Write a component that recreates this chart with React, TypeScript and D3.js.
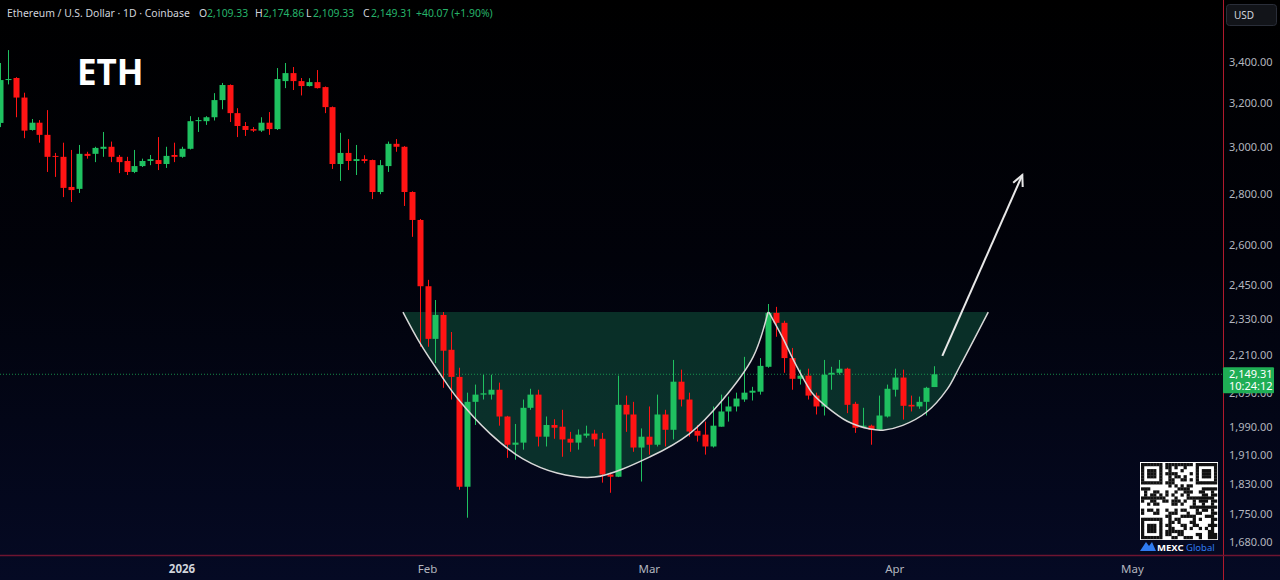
import React from 'react'
import * as d3 from 'd3'

// daily candles, first one is 2025-12-09
const startDate = '2025-12-09'
const opens = [3109, 3311, 3321, 3227, 3077, 3110, 3055, 2962, 2958, 2830, 2822, 2971, 2971, 2993, 3002, 2958, 2940, 2893, 2918, 2940, 2944, 2927, 2966,
    2958, 2993, 3117, 3117, 3135, 3215, 3287, 3154, 3095, 3081, 3074, 3110, 3081, 3306, 3345, 3306, 3282, 3301, 3277, 3182, 2927, 2975, 2940, 2948, 2944, 2809, 2918, 3015, 3002,
    2809, 2696, 2446, 2264, 2345, 2228, 2141, 1822, 2064, 2086, 2086, 2101, 2020, 1938, 1944, 2046, 2086, 1961, 1995, 1990, 1955, 1944, 1964, 1970, 1955, 1855, 1849, 2055, 2026, 1930,
    1961, 1938, 2026, 1981, 2126, 2071, 1978, 1967, 1933, 1990, 2035, 2050, 2071, 2092, 2095, 2173, 2352, 2318, 2201, 2135, 2145, 2083, 2050, 2148, 2154, 2167, 2058, 1990, 1993, 1981,
    2020, 2101, 2139, 2055, 2050, 2064, 2109.33]
const highs = [3395, 3460, 3325, 3250, 3127, 3122, 3168, 2975, 3020, 2988, 3010, 2980, 3002, 3068, 3025, 2966, 2958, 2988, 2950, 2966, 3045, 3002, 3020,
    3002, 3140, 3135, 3140, 3248, 3297, 3290, 3177, 3113, 3090, 3135, 3159, 3370, 3395, 3375, 3321, 3320, 3360, 3280, 3185, 3064, 3036, 3010, 2965, 2946, 2944, 3025, 3036, 3005,
    2812, 2700, 2469, 2397, 2355, 2287, 2170, 2092, 2117, 2148, 2148, 2123, 2022, 1998, 2071, 2104, 2101, 2020, 2012, 2040, 1975, 1982, 1993, 1981, 1972, 1860, 2145, 2083, 2064,
    1985, 2050, 2086, 2040, 2195, 2164, 2092, 1995, 2005, 2050, 2086, 2080, 2092, 2205, 2110, 2201, 2383, 2373, 2325, 2234, 2164, 2167, 2092, 2195, 2173, 2195, 2170, 2064, 2046, 1996,
    2083, 2117, 2167, 2164, 2083, 2080, 2110, 2174.86]
const lows = [3090, 3290, 3135, 3040, 3074, 3020, 2893, 2872, 2788, 2768, 2805, 2950, 2935, 2958, 2935, 2888, 2880, 2888, 2914, 2922, 2901, 2910, 2935,
    2954, 2990, 3068, 3100, 3120, 3172, 3113, 3045, 3050, 3068, 3068, 3055, 3077, 3272, 3263, 3237, 3280, 3270, 3154, 2906, 2855, 2901, 2880, 2930, 2780, 2800, 2893, 2980, 2752,
    2630, 2238, 2238, 2185, 2107, 2071, 1814, 1741, 1995, 2071, 2071, 1993, 1901, 1896, 1924, 2040, 1933, 1933, 1955, 1904, 1918, 1924, 1958, 1933, 1833, 1806, 1848, 1975, 1918,
    1836, 1910, 1933, 1933, 1953, 2050, 1961, 1947, 1910, 1930, 1990, 2005, 2035, 2064, 2068, 2086, 2170, 2271, 2154, 2101, 2117, 2071, 2026, 2023, 2101, 2148, 2030, 1972, 1988, 1938,
    1978, 2017, 2080, 2011, 2035, 2043, 2023, 2109.33]
const closes = [3311, 3316, 3227, 3074, 3110, 3055, 2958, 2958, 2826, 2817, 2971, 2962, 2997, 3002, 2958, 2935, 2893, 2918, 2940, 2948, 2927, 2962, 2958,
    2993, 3117, 3122, 3135, 3215, 3287, 3154, 3095, 3077, 3074, 3110, 3081, 3316, 3345, 3306, 3282, 3301, 3272, 3182, 2927, 2975, 2940, 2948, 2940, 2809, 2922, 3015, 3002, 2809,
    2696, 2446, 2264, 2345, 2225, 2141, 1822, 2064, 2086, 2090, 2101, 2020, 1938, 1944, 2046, 2086, 1961, 1995, 1987, 1953, 1944, 1967, 1970, 1953, 1855, 1849, 2055, 2026, 1930,
    1961, 1938, 2026, 1981, 2126, 2071, 1976, 1964, 1933, 1993, 2035, 2050, 2074, 2092, 2098, 2176, 2352, 2318, 2201, 2135, 2145, 2083, 2050, 2148, 2154, 2167, 2055, 1987, 1993, 1981,
    2023, 2104, 2139, 2052, 2050, 2064, 2107, 2149.31]

const lastPrice = 2149.31
const priceTicks = [3400, 3200, 3000, 2800, 2600, 2450, 2330, 2210, 2090, 1990, 1910, 1830, 1750, 1680]
const monthTicks = ['2026-01-01', '2026-02-01', '2026-03-01', '2026-04-01', '2026-05-01']
const monthLabels = ['2026', 'Feb', 'Mar', 'Apr', 'May']

// cup & handle drawing, [days after 2026-01-01, price]
const cupCurve = [[27.9, 2355], [30.05, 2250], [32.6, 2150], [34.7, 2077], [38.9, 1970], [43.05, 1898], [47.35, 1859], [52.1, 1848],
    [59.1, 1904], [64.1, 1970], [68.3, 2071], [72.1, 2204], [74.0, 2355]]
const handleCurve = [[74.1, 2355], [75.9, 2265], [77.1, 2200], [78.4, 2138], [79.7, 2087], [81.4, 2049], [84.0, 2006], [86.9, 1983],
    [88.5, 1980], [91.0, 1994], [94.1, 2035], [96.6, 2102], [98.2, 2174], [101.8, 2355]]
const arrowFrom = [96.0, 2208]
const arrowTo = [106.1, 2880]

const W = 1280, H = 580
const plotRight = 1223, plotBottom = 555
const green = '#1fc160', red = '#ff1414'

const jan1 = new Date(Date.UTC(2026, 0, 1))
const dayDate = (d: number) => new Date(jan1.getTime() + d * 864e5)

const x = d3.scaleUtc().domain([jan1, new Date(Date.UTC(2026, 4, 1))]).range([182, 182 + 120 * 7.92])
const y = d3.scaleLog().domain([1680, 3400]).range([542, 62])

const fmt = d3.format(',.2f')

const qrBits = (i: number, j: number) => {
    // fake qr pattern, deterministic
    const v = (i * 31 + j * 17 + i * j * 7 + (i ^ j) * 5) % 11
    return v < 5
}

const App = () => {
    const start = new Date(startDate + 'T00:00:00Z')
    const candles = opens.map((o, i) => ({
        date: d3.utcDay.offset(start, i),
        o, h: highs[i], l: lows[i], c: closes[i],
    }))

    const line = d3.line<number[]>()
        .x(d => x(dayDate(d[0])))
        .y(d => y(d[1]))
        .curve(d3.curveCatmullRom)

    const cupPath = line(cupCurve)
    const handlePath = line(handleCurve)

    const ax = x(dayDate(arrowFrom[0])), ay = y(arrowFrom[1])
    const bx = x(dayDate(arrowTo[0])), by = y(arrowTo[1])
    const ang = Math.atan2(by - ay, bx - ax)
    const head = 12
    const h1 = [bx - head * Math.cos(ang - 0.45), by - head * Math.sin(ang - 0.45)]
    const h2 = [bx - head * Math.cos(ang + 0.45), by - head * Math.sin(ang + 0.45)]

    // qr modules
    const qrN = 25, qrX = 1141, qrY = 463, qrS = 76 / 25
    const finder = (i: number, j: number) => {
        const inF = (a: number, b: number) => {
            const di = i - a, dj = j - b
            if (di < 0 || dj < 0 || di > 6 || dj > 6) return null
            if (di === 0 || dj === 0 || di === 6 || dj === 6) return true
            if (di >= 2 && di <= 4 && dj >= 2 && dj <= 4) return true
            return false
        }
        const sep = (a: number, b: number) => i >= a - 1 && i <= a + 7 && j >= b - 1 && j <= b + 7
        for (const [a, b] of [[0, 0], [0, qrN - 7], [qrN - 7, 0]]) {
            const r = inF(a, b)
            if (r !== null) return r
            if (sep(a, b)) return false
        }
        return null
    }
    const qrCells: { i: number, j: number }[] = []
    for (let i = 0; i < qrN; i++) {
        for (let j = 0; j < qrN; j++) {
            const f = finder(i, j)
            const on = f === null ? qrBits(i, j) : f
            if (on) qrCells.push({ i, j })
        }
    }

    const yLast = y(lastPrice)

    return (
        <svg width={W} height={H} style={{ position: 'absolute', left: 0, top: 0, display: 'block' }}
            fontFamily="'Noto Sans', Roboto, sans-serif">
            <defs>
                <linearGradient id="bg" x1="0" y1="0" x2="0" y2="1">
                    <stop offset="0" stopColor="#000000" />
                    <stop offset="0.45" stopColor="#01020a" />
                    <stop offset="1" stopColor="#050a24" />
                </linearGradient>
                <clipPath id="plot">
                    <rect x={0} y={0} width={plotRight} height={plotBottom} />
                </clipPath>
            </defs>
            <rect x={0} y={0} width={W} height={H} fill="url(#bg)" />

            <g clipPath="url(#plot)">
                {/* cup & handle zone */}
                <path d={cupPath + 'Z'} fill="#0e4a37" fillOpacity={0.62} />
                <path d={handlePath + 'Z'} fill="#0e4a37" fillOpacity={0.62} />

                {/* last price line */}
                <line x1={0} x2={plotRight} y1={yLast} y2={yLast} stroke={green} strokeWidth={1} strokeDasharray="1 2" opacity={0.7} />

                {candles.map((d, i) => {
                    const cx = Math.round(x(d.date)) + 0.5
                    const col = d.c >= d.o ? green : red
                    const top = y(Math.max(d.o, d.c))
                    const bh = Math.max(1, Math.abs(y(d.o) - y(d.c)))
                    return (
                        <g key={i}>
                            <line x1={cx} x2={cx} y1={y(d.h)} y2={y(d.l)} stroke={col} strokeWidth={1} />
                            <rect x={cx - 3} y={top} width={6} height={bh} fill={col} />
                        </g>
                    )
                })}

                <path d={cupPath || ''} fill="none" stroke="#d8d8d8" strokeWidth={1.5} />
                <path d={handlePath || ''} fill="none" stroke="#d8d8d8" strokeWidth={1.5} />

                {/* arrow */}
                <line x1={ax} y1={ay} x2={bx} y2={by} stroke="#e8e8e8" strokeWidth={2} />
                <polyline points={`${h1[0]},${h1[1]} ${bx},${by} ${h2[0]},${h2[1]}`} fill="none" stroke="#e8e8e8" strokeWidth={2} />
            </g>

            {/* header */}
            <g fontSize={10.4} fill="#d1d4dc">
                <text x={7} y={17}>Ethereum / U.S. Dollar · 1D · Coinbase</text>
                <text x={199} y={17}>O</text>
                <text x={207} y={17} fill="#26b36a">{fmt(opens[opens.length - 1])}</text>
                <text x={255} y={17}>H</text>
                <text x={263} y={17} fill="#26b36a">{fmt(highs[highs.length - 1])}</text>
                <text x={306} y={17}>L</text>
                <text x={313} y={17} fill="#26b36a">{fmt(lows[lows.length - 1])}</text>
                <text x={363} y={17}>C</text>
                <text x={371} y={17} fill="#26b36a">{fmt(closes[closes.length - 1])}</text>
                <text x={416} y={17} fill="#26b36a">+40.07 (+1.90%)</text>
            </g>

            <text x={77} y={85} fontSize={35} fontWeight="bold" fill="#ffffff" fontFamily="'Open Sans', 'Noto Sans', sans-serif">ETH</text>

            {/* price axis */}
            <line x1={plotRight + 0.5} x2={plotRight + 0.5} y1={0} y2={H} stroke="#b01a2c" strokeWidth={1} />
            <line x1={0} x2={W} y1={plotBottom + 0.5} y2={plotBottom + 0.5} stroke="#6e1430" strokeWidth={1.5} />
            <rect x={1226.5} y={4.5} width={50} height={21} rx={3} fill="#121419" stroke="#2a2e39" />
            <text x={1234} y={19} fontSize={10} fill="#d1d4dc">USD</text>
            {priceTicks.map(t => (
                <text key={t} x={1229} y={y(t) + 4} fontSize={11} fill="#b2b5be">{fmt(t)}</text>
            ))}
            <rect x={1223} y={yLast - 7} width={51} height={26} rx={1} fill="#1fae55" />
            <text x={1229} y={yLast + 4} fontSize={11} fill="#ffffff">{fmt(lastPrice)}</text>
            <text x={1229} y={yLast + 16} fontSize={11} fill="#ffffff">10:24:12</text>

            {/* time axis */}
            {monthTicks.map((m, i) => (
                <text key={m} x={x(new Date(m + 'T00:00:00Z'))} y={573} fontSize={11.5} textAnchor="middle"
                    fill={i === 0 ? '#d1d4dc' : '#b2b5be'} fontWeight={i === 0 ? 'bold' : 'normal'}>{monthLabels[i]}</text>
            ))}

            {/* qr + brand */}
            <rect x={qrX - 1} y={qrY - 1} width={78} height={78} fill="#ffffff" />
            {qrCells.map(c => (
                <rect key={c.i + '_' + c.j} x={qrX + c.j * qrS} y={qrY + c.i * qrS} width={qrS + 0.2} height={qrS + 0.2} fill="#111111" />
            ))}
            <path d="M1140,551 L1146,542 L1149,546 L1152,542 L1156,551 Z" fill="#2f7bf0" />
            <text x={1157} y={551} fontSize={9.5} fontWeight="bold" fill="#ffffff">MEXC</text>
            <text x={1186} y={551} fontSize={9.5} fill="#2f7bf0">Global</text>
        </svg>
    )
}

export default App
